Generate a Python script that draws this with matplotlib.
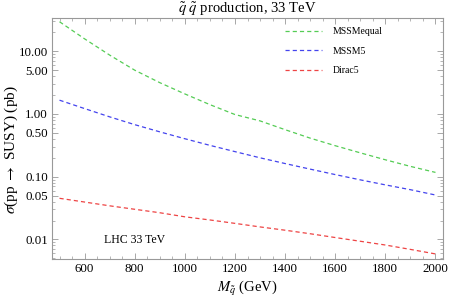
import matplotlib
matplotlib.use("Agg")
import matplotlib.pyplot as plt
from matplotlib.ticker import FixedLocator, FixedFormatter, MultipleLocator, NullFormatter
import numpy as np

mass = [500, 600, 700, 800, 900, 1000, 1100, 1200, 1300, 1400, 1500, 1600, 1700, 1800, 1900, 2000]
mssm_equal = [29.6, 15.8, 8.7, 5.0, 3.16, 2.09, 1.41, 0.98, 0.776, 0.562, 0.412, 0.312, 0.240, 0.186, 0.146, 0.117]
mssm5 = [1.66, 1.22, 0.90, 0.676, 0.519, 0.403, 0.316, 0.251, 0.200, 0.162, 0.132, 0.108, 0.089, 0.074, 0.062, 0.051]
dirac5 = [0.0452, 0.0394, 0.0343, 0.0302, 0.0266, 0.0229, 0.0204, 0.0180, 0.0158, 0.0140, 0.0123, 0.0107, 0.00933, 0.00813, 0.00692, 0.00586]
series_names = ["MSSMequal", "MSSM5", "Dirac5"]
series_colors = ["#55cc55", "#4444ee", "#ee4444"]
ytick_vals = [0.01, 0.05, 0.10, 0.50, 1.00, 5.00, 10.00]
ytick_labels = ["0.01", "0.05", "0.10", "0.50", "1.00", "5.00", "10.00"]
xtick_vals = [600, 800, 1000, 1200, 1400, 1600, 1800, 2000]

plt.rcParams['font.family'] = ['Liberation Serif', 'DejaVu Serif']
plt.rcParams['mathtext.fontset'] = 'stix'
plt.rcParams['lines.scale_dashes'] = False

fig = plt.figure(figsize=(4.5, 2.97), dpi=100)
ax = fig.add_axes([52/450, (297-259)/297, 391/450, 241/297])

for vals, name, col in zip([mssm_equal, mssm5, dirac5], series_names, series_colors):
    ax.plot(mass, vals, color=col, lw=0.9, linestyle=(0, (3.0, 2.2)), label=name)

ax.set_yscale('log')
ax.set_xlim(470, 2030)
ax.set_ylim(10**-2.313, 10**1.531)

ax.yaxis.set_major_locator(FixedLocator(ytick_vals))
ax.yaxis.set_major_formatter(FixedFormatter(ytick_labels))
minor = []
for dec in [0.001, 0.01, 0.1, 1, 10]:
    for k in range(1, 10):
        v = k * dec
        if v not in ytick_vals:
            minor.append(v)
ax.yaxis.set_minor_locator(FixedLocator(minor))
ax.yaxis.set_minor_formatter(NullFormatter())
ax.xaxis.set_major_locator(FixedLocator(xtick_vals))
ax.xaxis.set_minor_locator(MultipleLocator(50))

for s in ax.spines.values():
    s.set_color('#999999')
    s.set_linewidth(0.8)
ax.tick_params(which='both', direction='in', top=True, right=True, color='#999999', labelsize=9.3, pad=3)
ax.tick_params(which='major', length=4, width=0.6)
ax.tick_params(which='minor', length=2, width=0.5)

ax.set_title(r"$\tilde{q}$ $\tilde{q}$ production, 33 TeV", fontsize=10.5, pad=3)
ax.set_xlabel(r"$M_{\tilde{q}}$ (GeV)", fontsize=10.5, labelpad=3)
ax.set_ylabel(r"$\sigma$(pp $\rightarrow$ SUSY) (pb)", fontsize=11)
ax.yaxis.label.set_va('center')
ax.yaxis.set_label_coords((11-52)/391, 0.452)

ax.text(0.134, 0.078, "LHC 33 TeV", transform=ax.transAxes, fontsize=8.5, va='center')

leg = ax.legend(loc='upper left', bbox_to_anchor=((285-52)/391, (259-27)/241), frameon=False, fontsize=7,
                handlelength=3.8, handletextpad=1.1, labelspacing=1.1, borderpad=0, borderaxespad=0)

fig.savefig("out.png", dpi=100)
